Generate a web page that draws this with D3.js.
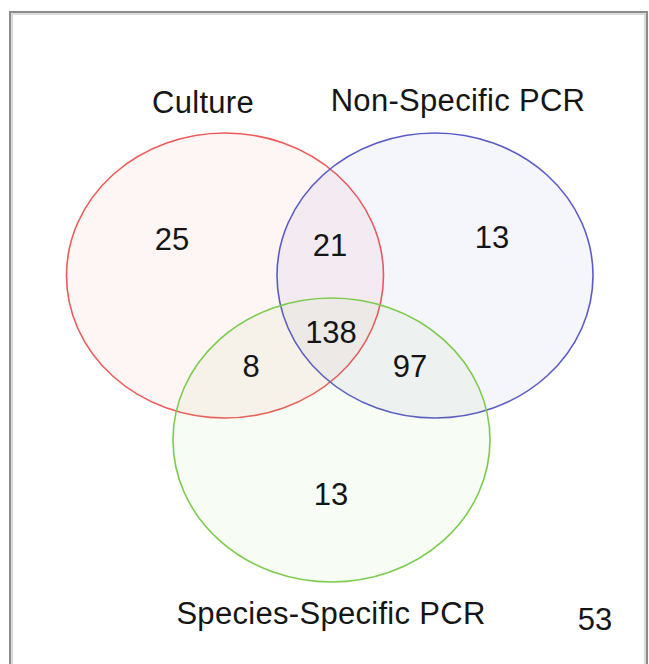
<!DOCTYPE html>
<html>
<head>
<meta charset="utf-8">
<script src="https://cdn.jsdelivr.net/npm/d3@7"></script>
<style>
  html, body { margin: 0; padding: 0; background: #fff; }
  svg { display: block; }
  text { font-family: "Liberation Sans", Arial, sans-serif; fill: #151515; }
</style>
</head>
<body>
<div id="chart"></div>
<script>
// sets and region counts
var sets = ['Culture', 'Non-Specific PCR', 'Species-Specific PCR'];
var setColors = ['#f05a5a', '#5a5ac8', '#7ccc4c'];
var regions = ['C', 'N', 'S', 'C&N', 'C&S', 'N&S', 'C&N&S', 'none'];
var counts = [25, 13, 13, 21, 8, 97, 138, 53];

var width = 649, height = 664;

// layout in unit space (1 unit = 1000px)
var circleLayout = [
  {cx: 0.225, cy: 0.2755, rx: 0.1585, ry: 0.1425},
  {cx: 0.435, cy: 0.2755, rx: 0.158, ry: 0.1425},
  {cx: 0.3315, cy: 0.440, rx: 0.1585, ry: 0.142}
];
var labelLayout = [
  {x: 0.203, y: 0.113},
  {x: 0.458, y: 0.111},
  {x: 0.331, y: 0.624}
];
var countLayout = [
  {x: 0.172, y: 0.250},
  {x: 0.492, y: 0.248},
  {x: 0.331, y: 0.505},
  {x: 0.330, y: 0.256},
  {x: 0.251, y: 0.377},
  {x: 0.410, y: 0.377},
  {x: 0.331, y: 0.343},
  {x: 0.595, y: 0.630}
];

var x = d3.scaleLinear().domain([0, 1]).range([0, 1000]);
var y = d3.scaleLinear().domain([0, 1]).range([0, 1000]);

var svg = d3.select('#chart').append('svg')
    .attr('width', width)
    .attr('height', height);

// frame
svg.append('rect')
    .attr('x', 10).attr('y', 12)
    .attr('width', 637).attr('height', 660)
    .attr('fill', 'none')
    .attr('stroke', '#8c8c8c')
    .attr('stroke-width', 2);
svg.append('rect')
    .attr('x', 12).attr('y', 14)
    .attr('width', 633).attr('height', 660)
    .attr('fill', 'none')
    .attr('stroke', '#cfcfcf')
    .attr('stroke-width', 1.5);

var g = svg.append('g');

g.selectAll('ellipse.set')
    .data(sets)
    .join('ellipse')
    .attr('class', 'set')
    .attr('cx', (d, i) => x(circleLayout[i].cx))
    .attr('cy', (d, i) => y(circleLayout[i].cy))
    .attr('rx', (d, i) => x(circleLayout[i].rx))
    .attr('ry', (d, i) => y(circleLayout[i].ry))
    .attr('fill', (d, i) => setColors[i])
    .attr('fill-opacity', 0.06)
    .attr('stroke', (d, i) => setColors[i])
    .attr('stroke-width', 1.6);

g.selectAll('text.label')
    .data(sets)
    .join('text')
    .attr('class', 'label')
    .attr('x', (d, i) => x(labelLayout[i].x))
    .attr('y', (d, i) => y(labelLayout[i].y))
    .attr('text-anchor', 'middle')
    .style('font-size', '31px')
    .style('letter-spacing', '0.3px')
    .text(d => d);

g.selectAll('text.count')
    .data(counts)
    .join('text')
    .attr('class', 'count')
    .attr('x', (d, i) => x(countLayout[i].x))
    .attr('y', (d, i) => y(countLayout[i].y))
    .attr('text-anchor', 'middle')
    .style('font-size', '31px')
    .text(d => d);
</script>
</body>
</html>
